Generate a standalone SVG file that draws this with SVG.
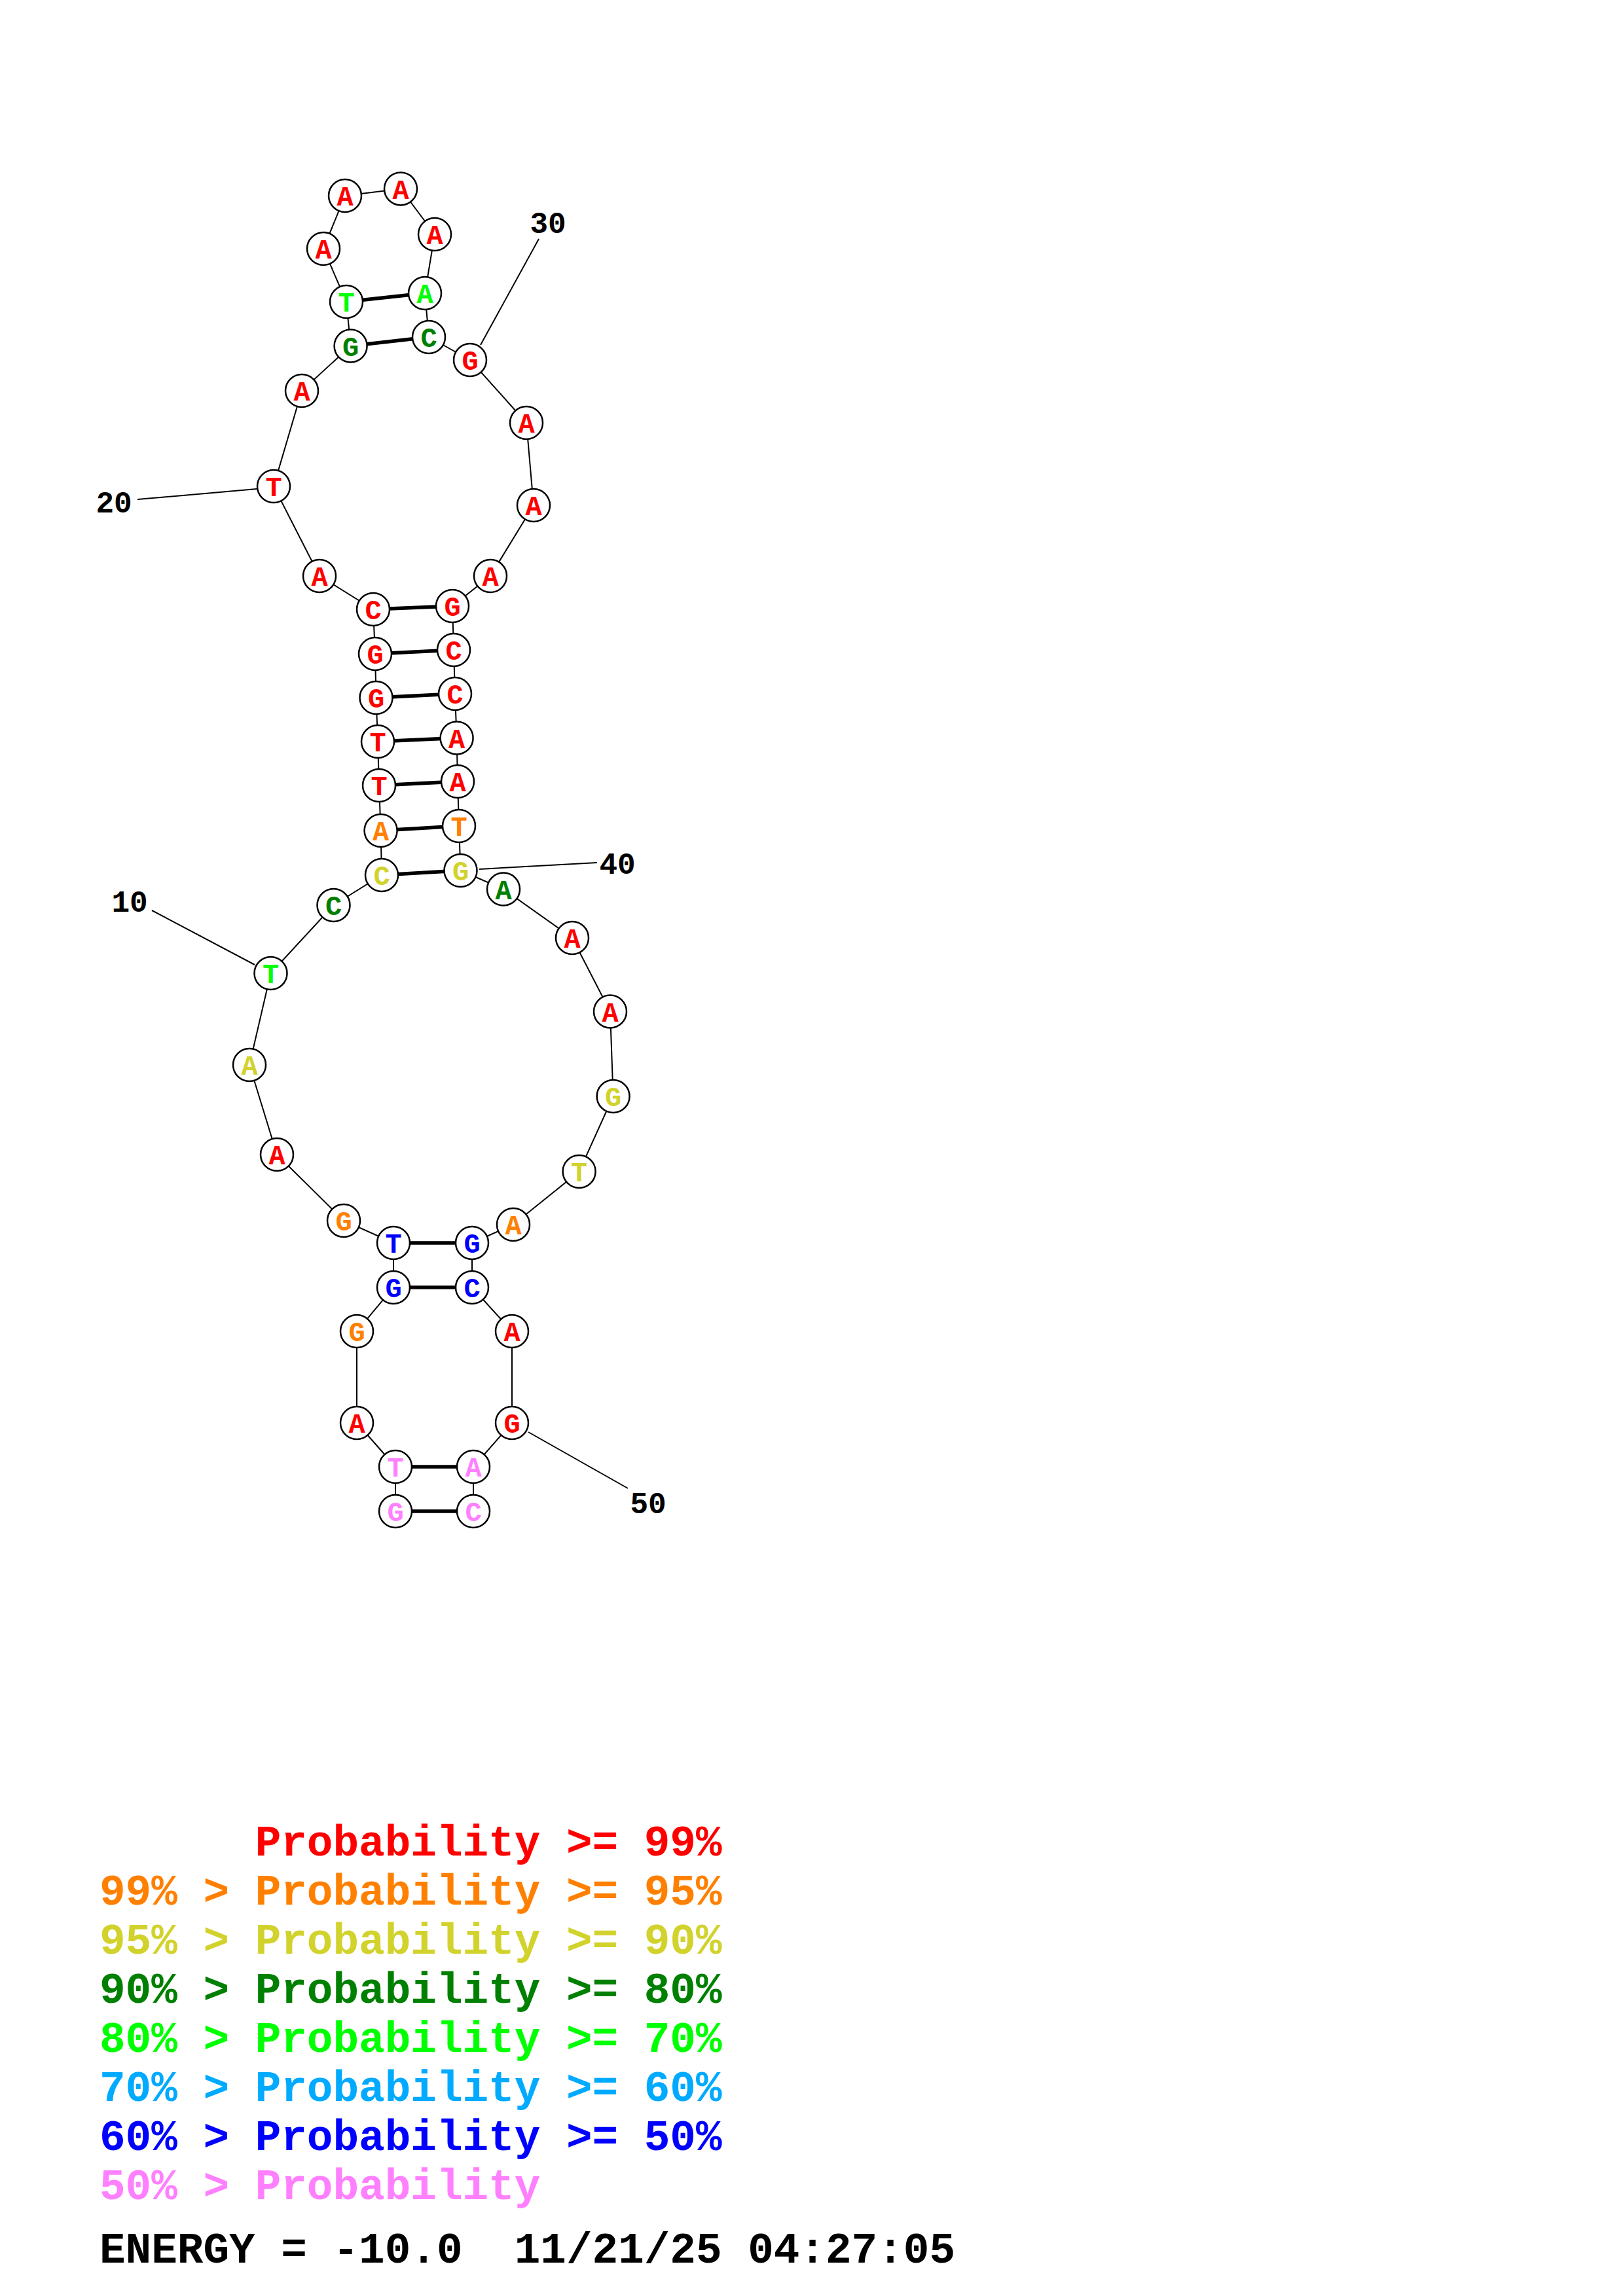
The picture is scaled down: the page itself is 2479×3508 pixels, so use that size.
<svg xmlns="http://www.w3.org/2000/svg" width="2479" height="3508" viewBox="0 0 2479 3508">
<style>
.nt circle{fill:#fff;stroke:#000;stroke-width:2.5}
.nt text{font-family:"Liberation Mono",monospace;font-weight:bold;font-size:42px;text-anchor:middle}
.bb{stroke:#000;stroke-width:2;fill:none}
.bp{stroke:#000;stroke-width:5.5;fill:none}
.ll{stroke:#000;stroke-width:2;fill:none}
.lab{font-family:"Liberation Mono",monospace;font-weight:bold;font-size:46px;fill:#000;text-anchor:middle}
.lg{font-family:"Liberation Mono",monospace;font-weight:bold;font-size:66px;white-space:pre}
.r{fill:#ff0000}.o{fill:#ff8000}.y{fill:#d2d22d}.dg{fill:#008000}.g{fill:#00ff00}.lb{fill:#00aaff}.b{fill:#0000ff}.p{fill:#ff80ff}.k{fill:#000}
</style>
<g id="connectors">
<polyline class="bb" points="604,2309 604,2241 545,2174 545,2034 601,1967 601,1899 525,1865 423,1764 381,1627 413.5,1487 509.5,1383 583,1337 581.6,1269 579,1200 577,1133 574.5,1066 573,999 570,931 488,880 418,743 461,597 535.6,528.5 529,461 494,380 527,299 612,288.5 664,358 649,448 655,515 718,550 804,646 815,772 749,880 691,926 693,993 695,1060 697.6,1127.5 699,1194 701,1262 703.5,1330 769,1358.5 874,1433 932,1545.5 936.6,1675 884.6,1790 784,1871 721,1899 721,1967 782,2034 782,2174 723,2241 723,2309"/>
<line class="bp" x1="604" y1="2309" x2="723" y2="2309"/>
<line class="bp" x1="604" y1="2241" x2="723" y2="2241"/>
<line class="bp" x1="601" y1="1967" x2="721" y2="1967"/>
<line class="bp" x1="601" y1="1899" x2="721" y2="1899"/>
<line class="bp" x1="583" y1="1337" x2="703.5" y2="1330"/>
<line class="bp" x1="581.6" y1="1269" x2="701" y2="1262"/>
<line class="bp" x1="579" y1="1200" x2="699" y2="1194"/>
<line class="bp" x1="577" y1="1133" x2="697.6" y2="1127.5"/>
<line class="bp" x1="574.5" y1="1066" x2="695" y2="1060"/>
<line class="bp" x1="573" y1="999" x2="693" y2="993"/>
<line class="bp" x1="570" y1="931" x2="691" y2="926"/>
<line class="bp" x1="535.6" y1="528.5" x2="655" y2="515"/>
<line class="bp" x1="529" y1="461" x2="649" y2="448"/>
<line class="ll" x1="232" y1="1391" x2="389" y2="1474"/>
<line class="ll" x1="210" y1="763" x2="392" y2="747"/>
<line class="ll" x1="823" y1="365" x2="734" y2="527"/>
<line class="ll" x1="912" y1="1318" x2="732" y2="1328"/>
<line class="ll" x1="807" y1="2188" x2="959" y2="2274"/>
</g>
<g id="n1" class="nt p"><circle cx="604" cy="2309" r="25"/><text x="604" y="2324">G</text></g>
<g id="n2" class="nt p"><circle cx="604" cy="2241" r="25"/><text x="604" y="2256">T</text></g>
<g id="n3" class="nt r"><circle cx="545" cy="2174" r="25"/><text x="545" y="2189">A</text></g>
<g id="n4" class="nt o"><circle cx="545" cy="2034" r="25"/><text x="545" y="2049">G</text></g>
<g id="n5" class="nt b"><circle cx="601" cy="1967" r="25"/><text x="601" y="1982">G</text></g>
<g id="n6" class="nt b"><circle cx="601" cy="1899" r="25"/><text x="601" y="1914">T</text></g>
<g id="n7" class="nt o"><circle cx="525" cy="1865" r="25"/><text x="525" y="1880">G</text></g>
<g id="n8" class="nt r"><circle cx="423" cy="1764" r="25"/><text x="423" y="1779">A</text></g>
<g id="n9" class="nt y"><circle cx="381" cy="1627" r="25"/><text x="381" y="1642">A</text></g>
<g id="n10" class="nt g"><circle cx="413.5" cy="1487" r="25"/><text x="413.5" y="1502">T</text></g>
<g id="n11" class="nt dg"><circle cx="509.5" cy="1383" r="25"/><text x="509.5" y="1398">C</text></g>
<g id="n12" class="nt y"><circle cx="583" cy="1337" r="25"/><text x="583" y="1352">C</text></g>
<g id="n13" class="nt o"><circle cx="581.6" cy="1269" r="25"/><text x="581.6" y="1284">A</text></g>
<g id="n14" class="nt r"><circle cx="579" cy="1200" r="25"/><text x="579" y="1215">T</text></g>
<g id="n15" class="nt r"><circle cx="577" cy="1133" r="25"/><text x="577" y="1148">T</text></g>
<g id="n16" class="nt r"><circle cx="574.5" cy="1066" r="25"/><text x="574.5" y="1081">G</text></g>
<g id="n17" class="nt r"><circle cx="573" cy="999" r="25"/><text x="573" y="1014">G</text></g>
<g id="n18" class="nt r"><circle cx="570" cy="931" r="25"/><text x="570" y="946">C</text></g>
<g id="n19" class="nt r"><circle cx="488" cy="880" r="25"/><text x="488" y="895">A</text></g>
<g id="n20" class="nt r"><circle cx="418" cy="743" r="25"/><text x="418" y="758">T</text></g>
<g id="n21" class="nt r"><circle cx="461" cy="597" r="25"/><text x="461" y="612">A</text></g>
<g id="n22" class="nt dg"><circle cx="535.6" cy="528.5" r="25"/><text x="535.6" y="543.5">G</text></g>
<g id="n23" class="nt g"><circle cx="529" cy="461" r="25"/><text x="529" y="476">T</text></g>
<g id="n24" class="nt r"><circle cx="494" cy="380" r="25"/><text x="494" y="395">A</text></g>
<g id="n25" class="nt r"><circle cx="527" cy="299" r="25"/><text x="527" y="314">A</text></g>
<g id="n26" class="nt r"><circle cx="612" cy="288.5" r="25"/><text x="612" y="303.5">A</text></g>
<g id="n27" class="nt r"><circle cx="664" cy="358" r="25"/><text x="664" y="373">A</text></g>
<g id="n28" class="nt g"><circle cx="649" cy="448" r="25"/><text x="649" y="463">A</text></g>
<g id="n29" class="nt dg"><circle cx="655" cy="515" r="25"/><text x="655" y="530">C</text></g>
<g id="n30" class="nt r"><circle cx="718" cy="550" r="25"/><text x="718" y="565">G</text></g>
<g id="n31" class="nt r"><circle cx="804" cy="646" r="25"/><text x="804" y="661">A</text></g>
<g id="n32" class="nt r"><circle cx="815" cy="772" r="25"/><text x="815" y="787">A</text></g>
<g id="n33" class="nt r"><circle cx="749" cy="880" r="25"/><text x="749" y="895">A</text></g>
<g id="n34" class="nt r"><circle cx="691" cy="926" r="25"/><text x="691" y="941">G</text></g>
<g id="n35" class="nt r"><circle cx="693" cy="993" r="25"/><text x="693" y="1008">C</text></g>
<g id="n36" class="nt r"><circle cx="695" cy="1060" r="25"/><text x="695" y="1075">C</text></g>
<g id="n37" class="nt r"><circle cx="697.6" cy="1127.5" r="25"/><text x="697.6" y="1142.5">A</text></g>
<g id="n38" class="nt r"><circle cx="699" cy="1194" r="25"/><text x="699" y="1209">A</text></g>
<g id="n39" class="nt o"><circle cx="701" cy="1262" r="25"/><text x="701" y="1277">T</text></g>
<g id="n40" class="nt y"><circle cx="703.5" cy="1330" r="25"/><text x="703.5" y="1345">G</text></g>
<g id="n41" class="nt dg"><circle cx="769" cy="1358.5" r="25"/><text x="769" y="1373.5">A</text></g>
<g id="n42" class="nt r"><circle cx="874" cy="1433" r="25"/><text x="874" y="1448">A</text></g>
<g id="n43" class="nt r"><circle cx="932" cy="1545.5" r="25"/><text x="932" y="1560.5">A</text></g>
<g id="n44" class="nt y"><circle cx="936.6" cy="1675" r="25"/><text x="936.6" y="1690">G</text></g>
<g id="n45" class="nt y"><circle cx="884.6" cy="1790" r="25"/><text x="884.6" y="1805">T</text></g>
<g id="n46" class="nt o"><circle cx="784" cy="1871" r="25"/><text x="784" y="1886">A</text></g>
<g id="n47" class="nt b"><circle cx="721" cy="1899" r="25"/><text x="721" y="1914">G</text></g>
<g id="n48" class="nt b"><circle cx="721" cy="1967" r="25"/><text x="721" y="1982">C</text></g>
<g id="n49" class="nt r"><circle cx="782" cy="2034" r="25"/><text x="782" y="2049">A</text></g>
<g id="n50" class="nt r"><circle cx="782" cy="2174" r="25"/><text x="782" y="2189">G</text></g>
<g id="n51" class="nt p"><circle cx="723" cy="2241" r="25"/><text x="723" y="2256">A</text></g>
<g id="n52" class="nt p"><circle cx="723" cy="2309" r="25"/><text x="723" y="2324">C</text></g>
<g id="labels">
<text class="lab" x="198" y="1393">10</text>
<text class="lab" x="174" y="783">20</text>
<text class="lab" x="837" y="356">30</text>
<text class="lab" x="943" y="1335">40</text>
<text class="lab" x="990" y="2312">50</text>
</g>
<g id="legend">
<text class="lg r" x="152" y="2835">      Probability &gt;= 99%</text>
<text class="lg o" x="152" y="2910">99% &gt; Probability &gt;= 95%</text>
<text class="lg y" x="152" y="2985">95% &gt; Probability &gt;= 90%</text>
<text class="lg dg" x="152" y="3060">90% &gt; Probability &gt;= 80%</text>
<text class="lg g" x="152" y="3135">80% &gt; Probability &gt;= 70%</text>
<text class="lg lb" x="152" y="3210">70% &gt; Probability &gt;= 60%</text>
<text class="lg b" x="152" y="3285">60% &gt; Probability &gt;= 50%</text>
<text class="lg p" x="152" y="3360">50% &gt; Probability</text>
<text class="lg k" x="152" y="3457">ENERGY = -10.0  11/21/25 04:27:05</text>
</g>
</svg>
